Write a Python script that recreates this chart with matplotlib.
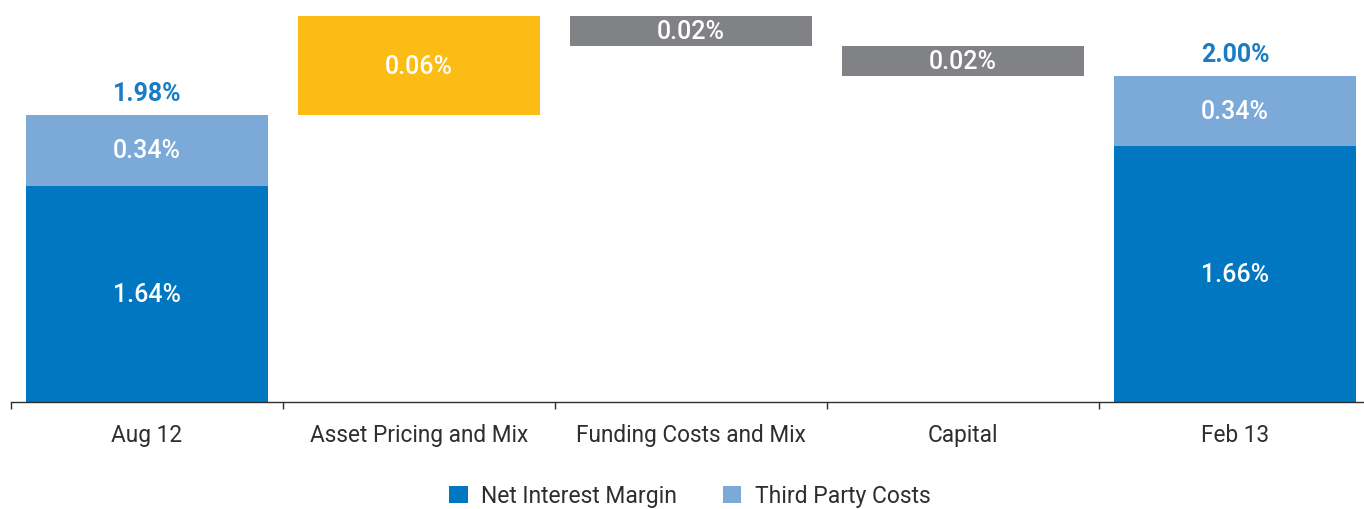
import matplotlib
matplotlib.use("Agg")
import matplotlib.pyplot as plt
from matplotlib.patches import Patch
from matplotlib import font_manager as fm
import numpy as np

# ---- data ----
categories = ["Aug 12", "Asset Pricing and Mix", "Funding Costs and Mix", "Capital", "Feb 13"]
# labelled values (%)
nim_values = [1.64, 1.66]          # Aug 12, Feb 13
third_party_values = [0.34, 0.34]  # Aug 12, Feb 13
totals = [1.98, 2.00]
change_values = [0.06, -0.02, -0.02]
# drawn segment heights as they appear in the (stylised) source chart
nim_drawn = [2.16, 2.56]
third_party_drawn = [0.71, 0.70]
change_drawn = [0.99, -0.30, -0.30]

# ---- style ----
names = {f.name for f in fm.fontManager.ttflist}
fam = "Liberation Sans Narrow" if "Liberation Sans Narrow" in names else "Roboto"
plt.rcParams["font.family"] = [fam, "DejaVu Sans"]

DARK = "#0077C0"
LIGHT = "#7BAAD9"
YELLOW = "#FBBC15"
GREY = "#818285"
TOTAL = "#1A7CC4"
AXIS = "#2E2E2E"

W, H = 1364, 510
fig = plt.figure(figsize=(W / 100, H / 100), dpi=100)
ax = fig.add_axes([11 / W, (H - 403) / H, 1360 / W, (403 - 17) / H])

x = np.arange(len(categories))
bw = 0.89
end_idx = [0, 4]
LBL = 18

# Start / end stacked bars
for i, idx in enumerate(end_idx):
    ax.bar(idx, nim_drawn[i], bw, color=DARK, linewidth=0)
    ax.bar(idx, third_party_drawn[i], bw, bottom=nim_drawn[i], color=LIGHT, linewidth=0)
    ax.text(idx, nim_drawn[i] / 2, f"{nim_values[i]:.2f}%", ha="center", va="center",
            color="white", fontsize=LBL, fontweight="medium")
    ax.text(idx, nim_drawn[i] + third_party_drawn[i] / 2, f"{third_party_values[i]:.2f}%",
            ha="center", va="center", color="white", fontsize=LBL, fontweight="medium")
    ax.annotate(f"{totals[i]:.2f}%", (idx, nim_drawn[i] + third_party_drawn[i]),
                xytext=(0, 15.5), textcoords="offset points", ha="center", va="center",
                color=TOTAL, fontsize=LBL, fontweight="bold")

# Floating change bars
level = nim_drawn[0] + third_party_drawn[0]
for j, d in enumerate(change_drawn):
    idx = j + 1
    bottom = level if d > 0 else level + d
    color = YELLOW if change_values[j] > 0 else GREY
    ax.bar(idx, abs(d), bw, bottom=bottom, color=color, linewidth=0)
    ax.text(idx, bottom + abs(d) / 2, f"{abs(change_values[j]):.2f}%", ha="center",
            va="center", color="white", fontsize=LBL, fontweight="medium")
    level += d

ax.set_xlim(-0.5, len(categories) - 0.5)
ax.set_ylim(0, nim_drawn[0] + third_party_drawn[0] + change_drawn[0])

for s in ["top", "right", "left"]:
    ax.spines[s].set_visible(False)
ax.spines["bottom"].set_color(AXIS)
ax.spines["bottom"].set_linewidth(1.0)
ax.set_yticks([])
ax.set_xticks(x)
ax.set_xticklabels(categories, fontsize=16.3, color=AXIS)
ax.tick_params(axis="x", which="major", length=0, pad=15)
ax.set_xticks(np.arange(-0.5, len(categories)), minor=True)
ax.tick_params(axis="x", which="minor", length=5, width=1, color=AXIS)

handles = [Patch(facecolor=DARK, label="Net Interest Margin"),
           Patch(facecolor=LIGHT, label="Third Party Costs")]
fig.legend(handles=handles, loc="center", bbox_to_anchor=(690 / W, 1 - 497 / H), ncol=2,
           frameon=False, handlelength=0.8, handleheight=0.8,
           handletextpad=0.6, columnspacing=2.0, labelcolor=AXIS,
           prop={"size": 16.5})

fig.savefig("out.png", dpi=100)
